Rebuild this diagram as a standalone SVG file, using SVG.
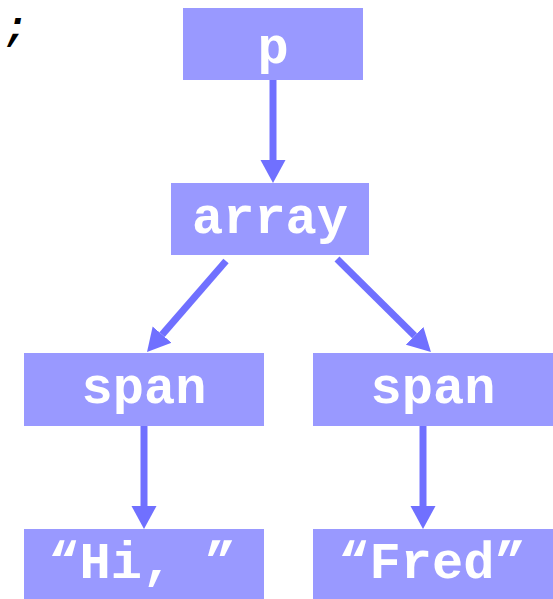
<svg xmlns="http://www.w3.org/2000/svg" width="553" height="599" viewBox="0 0 553 599">
<style>
.box{fill:#9999ff}
.lbl{font-family:"Liberation Mono","Courier New",monospace;font-weight:bold;font-size:52px;fill:#ffffff;text-anchor:middle}
.edge{stroke:#7070ff;stroke-width:7;fill:none}
</style>
<defs>
<marker id="ah" markerUnits="userSpaceOnUse" markerWidth="24" markerHeight="26" viewBox="0 -13 24 26" refX="0" refY="0" orient="auto">
<path d="M0,-12.5 L23,0 L0,12.5 z" fill="#7070ff"/>
</marker>
</defs>
<rect width="553" height="599" fill="#ffffff"/>
<text x="4" y="40" font-family="Liberation Mono, monospace" font-weight="bold" font-style="italic" font-size="40" fill="#000000">;</text>
<g id="connectors">
<path class="edge" d="M273,80 L273,160" marker-end="url(#ah)"/>
<path class="edge" d="M226,261 L162.1,334.6" marker-end="url(#ah)"/>
<path class="edge" d="M337,259 L414.6,335.8" marker-end="url(#ah)"/>
<path class="edge" d="M144,426 L144,506" marker-end="url(#ah)"/>
<path class="edge" d="M423,426 L423,506" marker-end="url(#ah)"/>
</g>
<g id="node-p"><rect class="box" x="183" y="8" width="180" height="72"/><text class="lbl" x="273" y="63">p</text></g>
<g id="node-array"><rect class="box" x="171" y="183" width="198" height="72"/><text class="lbl" x="270" y="233">array</text></g>
<g id="node-span1"><rect class="box" x="24" y="353" width="240" height="73"/><text class="lbl" x="144" y="403">span</text></g>
<g id="node-span2"><rect class="box" x="313" y="353" width="240" height="73"/><text class="lbl" x="433" y="403">span</text></g>
<g id="node-hi"><rect class="box" x="24" y="529" width="240" height="70"/><text class="lbl" x="142" y="578">“Hi, ”</text></g>
<g id="node-fred"><rect class="box" x="313" y="529" width="240" height="70"/><text class="lbl" x="432" y="578">“Fred”</text></g>
</svg>
